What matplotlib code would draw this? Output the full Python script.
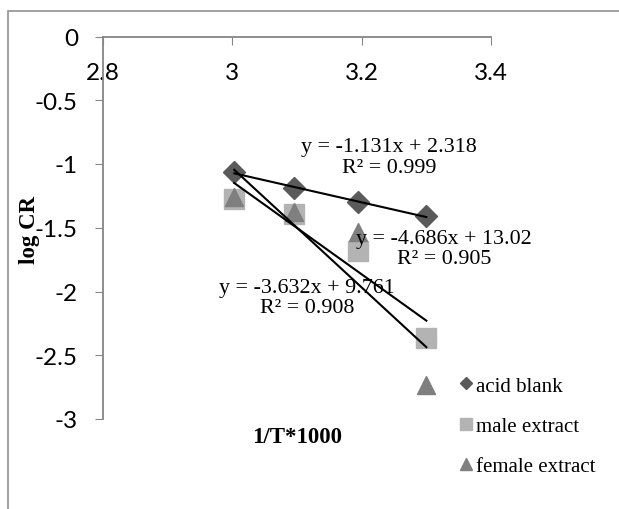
import matplotlib
matplotlib.use("Agg")
import matplotlib.pyplot as plt
import numpy as np
from matplotlib.patches import Rectangle
from matplotlib.lines import Line2D

# Data
x_vals = [3.003, 3.096, 3.195, 3.300]
acid_blank = [-1.065, -1.19, -1.30, -1.41]
male_extract = [-1.275, -1.39, -1.68, -2.367]
female_extract = [-1.26, -1.38, -1.535, -2.733]
series_names = ["acid blank", "male extract", "female extract"]
x_ticks = [2.8, 3.0, 3.2, 3.4]
x_tick_labels = ["2.8", "3", "3.2", "3.4"]
y_ticks = [0, -0.5, -1, -1.5, -2, -2.5, -3]
y_tick_labels = ["0", "-0.5", "-1", "-1.5", "-2", "-2.5", "-3"]
eq_acid = "y = -1.131x + 2.318\nR² = 0.999"
eq_female = "y = -4.686x + 13.02\nR² = 0.905"
eq_male = "y = -3.632x + 9.761\nR² = 0.908"

W, H = 619, 510
fig = plt.figure(figsize=(W / 100, H / 100), dpi=100)
ax = fig.add_axes([103 / W, 1 - 420 / H, 388 / W, 382.5 / H])

serif = "Liberation Serif"
sans = "Lato"

# outer chart frame
fig.patches.append(Rectangle((8 / W, -0.05), 1.2, 1 - 12 / H + 0.05,
                             transform=fig.transFigure, fill=False,
                             edgecolor="#9a9a9a", linewidth=1.3, zorder=0))

ax.plot(x_vals, male_extract, linestyle="none", marker="s", markersize=14,
        color="#b3b3b3", zorder=3)
ax.plot(x_vals, female_extract, linestyle="none", marker="^", markersize=13,
        color="#7f7f7f", zorder=4)
ax.plot(x_vals, acid_blank, linestyle="none", marker="D", markersize=11.5,
        color="#5a5a5a", zorder=5)

# trendlines (linear least squares fit)
xa = np.array(x_vals)
for ys in (acid_blank, male_extract, female_extract):
    p = np.polyfit(xa, np.array(ys), 1)
    xl = np.array([xa.min(), xa.max()])
    ax.plot(xl, np.polyval(p, xl), color="black", linewidth=1.5, zorder=6)

ax.set_xlim(2.8, 3.4)
ax.set_ylim(-3, 0)

for s in ("top", "right"):
    ax.spines[s].set_visible(False)
ax.spines["bottom"].set_position(("data", 0))
for s in ("left", "bottom"):
    ax.spines[s].set_color("#868686")
    ax.spines[s].set_linewidth(1.3)

ax.set_xticks(x_ticks)
ax.set_xticklabels(x_tick_labels, fontfamily=sans, fontsize=17.5)
ax.set_yticks(y_ticks)
ax.set_yticklabels(y_tick_labels, fontfamily=sans, fontsize=17.5)
ax.tick_params(axis="x", direction="out", length=6, color="#868686", pad=12.5)
ax.tick_params(axis="y", direction="out", length=6, color="#868686", pad=12)

# axis titles
fig.text(29 / W, 1 - 230 / H, "log CR", rotation=90, ha="center", va="center",
         fontfamily=serif, fontweight="bold", fontsize=16.5)
fig.text(297 / W, 1 - 438 / H, "1/T*1000", ha="center", va="center",
         fontfamily=serif, fontweight="bold", fontsize=16.5)

# trendline labels
lab = dict(ha="center", va="center", fontfamily=serif, fontsize=15.8,
           linespacing=1.08, zorder=7)
ax.text(3.242, -0.945, eq_acid, **lab)
ax.text(3.327, -1.665, eq_female, **lab)
ax.text(3.115, -2.05, eq_male, **lab)

# legend
handles = [
    Line2D([], [], linestyle="none", marker="D", markersize=6, color="#5a5a5a"),
    Line2D([], [], linestyle="none", marker="s", markersize=8, color="#b3b3b3"),
    Line2D([], [], linestyle="none", marker="^", markersize=8, color="#7f7f7f"),
]
leg = fig.legend(handles, series_names, loc="upper left",
                 bbox_to_anchor=(460 / W, 1 - 377 / H), frameon=False,
                 prop={"family": serif, "size": 15}, handlelength=0.6,
                 handletextpad=0.15, labelspacing=1.0, borderpad=0, borderaxespad=0)

fig.savefig("out.png", dpi=100)
